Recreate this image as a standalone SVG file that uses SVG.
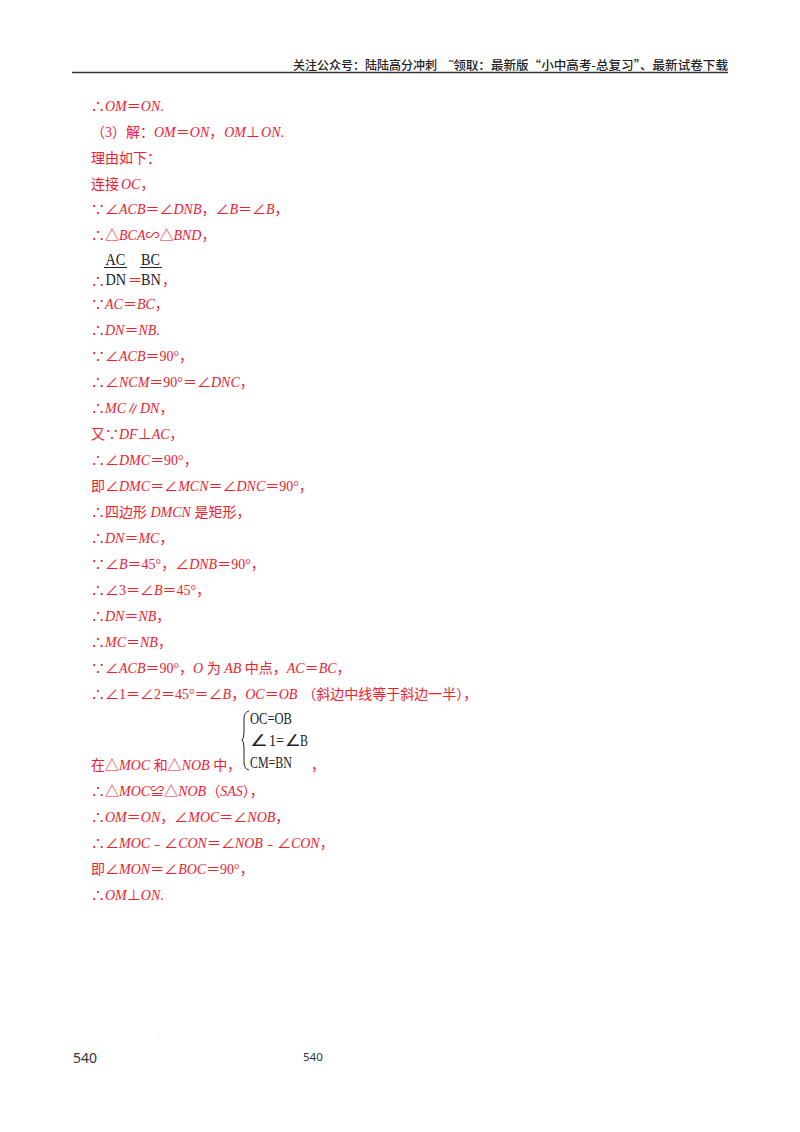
<svg xmlns="http://www.w3.org/2000/svg" width="800" height="1132" viewBox="0 0 800 1132">
<style>
.l{font-family:"Liberation Serif","Noto Sans CJK SC",serif;font-size:14px;fill:#f0202c}
.i{font-style:italic}
.h{font-family:"Noto Sans CJK SC",sans-serif;font-size:12px;fill:#222;font-weight:500}
.m{font-family:"Liberation Serif",serif;font-size:17px;fill:#222}
.a{font-family:"DejaVu Sans",sans-serif;font-size:16px;fill:#222}
.b{font-family:"Noto Sans",sans-serif;fill:#333}
</style>
<rect width="800" height="1132" fill="#fff"/>
<g id="header">
<text class="h" x="293" y="70" textLength="144" lengthAdjust="spacingAndGlyphs">关注公众号：陆陆高分冲刺</text>
<text class="h" x="449" y="70" textLength="279" lengthAdjust="spacingAndGlyphs">˜领取：最新版“小中高考-总复习”、最新试卷下载</text>
<line x1="72" y1="72.5" x2="728" y2="72.5" stroke="#333" stroke-width="1.5"/>
</g>
<g id="body">
<text class="l" x="91" y="110.500">∴<tspan class="i">OM</tspan>＝<tspan class="i">ON</tspan>.</text>
<text class="l" x="91" y="136.500">（3）解：<tspan class="i">OM</tspan>＝<tspan class="i">ON</tspan>，<tspan class="i" dx="1">OM</tspan>⊥<tspan class="i" dx="1">ON</tspan>.</text>
<text class="l" x="91" y="162.500">理由如下：</text>
<text class="l" x="91" y="188.500">连接<tspan class="i" dx="2">OC</tspan>，</text>
<text class="l" x="91" y="214">∵∠<tspan class="i">ACB</tspan>＝∠<tspan class="i">DNB</tspan>，∠<tspan class="i">B</tspan>＝∠<tspan class="i">B</tspan>，</text>
<text class="l" x="91" y="240">∴△<tspan class="i">BCA</tspan>∽△<tspan class="i">BND</tspan>，</text>
<text class="l" x="91" y="286">∴</text>
<text class="m" transform="translate(105.500 265) scale(.84 1)">AC</text>
<line x1="104" y1="267.500" x2="127" y2="267.500" stroke="#222"/>
<text class="m" transform="translate(105.500 285) scale(.84 1)">DN</text>
<text class="l" x="128" y="285">＝</text>
<text class="m" transform="translate(141 265) scale(.84 1)">BC</text>
<line x1="140" y1="267.500" x2="162" y2="267.500" stroke="#222"/>
<text class="m" transform="translate(141 285) scale(.84 1)">BN</text>
<text class="l" x="162" y="285">，</text>
<text class="l" x="91" y="309">∵<tspan class="i">AC</tspan>＝<tspan class="i">BC</tspan>，</text>
<text class="l" x="91" y="335">∴<tspan class="i">DN</tspan>＝<tspan class="i">NB</tspan>.</text>
<text class="l" x="91" y="361">∵∠<tspan class="i">ACB</tspan>＝90°，</text>
<text class="l" x="91" y="387">∴∠<tspan class="i">NCM</tspan>＝90°＝∠<tspan class="i">DNC</tspan>，</text>
<text class="l" x="91" y="413">∴<tspan class="i">MC</tspan>∥<tspan class="i">DN</tspan>，</text>
<text class="l" x="91" y="439">又∵<tspan class="i">DF</tspan>⊥<tspan class="i">AC</tspan>，</text>
<text class="l" x="91" y="465">∴∠<tspan class="i">DMC</tspan>＝90°，</text>
<text class="l" x="91" y="491">即∠<tspan class="i">DMC</tspan>＝∠<tspan class="i">MCN</tspan>＝∠<tspan class="i">DNC</tspan>＝90°，</text>
<text class="l" x="91" y="517">∴四边形 <tspan class="i">DMCN</tspan> 是矩形，</text>
<text class="l" x="91" y="543">∴<tspan class="i">DN</tspan>＝<tspan class="i">MC</tspan>，</text>
<text class="l" x="91" y="569">∵∠<tspan class="i">B</tspan>＝45°，∠<tspan class="i">DNB</tspan>＝90°，</text>
<text class="l" x="91" y="595">∴∠3＝∠<tspan class="i">B</tspan>＝45°，</text>
<text class="l" x="91" y="621">∴<tspan class="i">DN</tspan>＝<tspan class="i">NB</tspan>，</text>
<text class="l" x="91" y="647">∴<tspan class="i">MC</tspan>＝<tspan class="i">NB</tspan>，</text>
<text class="l" x="91" y="673">∵∠<tspan class="i">ACB</tspan>＝90°，<tspan class="i">O</tspan> 为 <tspan class="i">AB</tspan> 中点，<tspan class="i">AC</tspan>＝<tspan class="i">BC</tspan>，</text>
<text class="l" x="91" y="699">∴∠1＝∠2＝45°＝∠<tspan class="i">B</tspan>，<tspan class="i">OC</tspan>＝<tspan class="i">OB</tspan><tspan dx="5">（斜边中线等于斜边一半），</tspan></text>
<path d="M249 711Q244 712 244 719V732Q244 739 242 740Q244 741 244 748V762Q244 769 249 770" fill="none" stroke="#222"/>
<text class="m" x="250" y="724" textLength="42" lengthAdjust="spacingAndGlyphs">OC=OB</text>
<text class="a" transform="translate(250 746) scale(1.25 1)">∠</text>
<text class="m" x="269" y="746" textLength="15" lengthAdjust="spacingAndGlyphs">1=</text>
<text class="a" transform="translate(285 746) scale(1.1 1)">∠</text>
<text class="m" x="300" y="746" textLength="8" lengthAdjust="spacingAndGlyphs">B</text>
<text class="m" x="250" y="768" textLength="42" lengthAdjust="spacingAndGlyphs">CM=BN</text>
<text class="l" x="91" y="770">在△<tspan class="i">MOC</tspan> 和△<tspan class="i">NOB</tspan> 中，</text>
<text class="l" x="311" y="770">，</text>
<text class="l" x="91" y="796">∴△<tspan class="i">MOC</tspan>≌△<tspan class="i">NOB</tspan>（<tspan class="i">SAS</tspan>），</text>
<text class="l" x="91" y="822">∴<tspan class="i">OM</tspan>＝<tspan class="i">ON</tspan>，∠<tspan class="i">MOC</tspan>＝∠<tspan class="i">NOB</tspan>，</text>
<text class="l" x="91" y="848">∴∠<tspan class="i">MOC</tspan>﹣∠<tspan class="i">CON</tspan>＝∠<tspan class="i">NOB</tspan>﹣∠<tspan class="i">CON</tspan>，</text>
<text class="l" x="91" y="874">即∠<tspan class="i">MON</tspan>＝∠<tspan class="i">BOC</tspan>＝90°，</text>
<text class="l" x="91" y="900">∴<tspan class="i">OM</tspan>⊥<tspan class="i">ON</tspan>.</text>
</g>
<g id="footer">
<text class="b" x="73" y="1063" font-size="14">540</text>
<text class="b" x="303" y="1061" font-size="11.5">540</text>
<circle cx="158" cy="1035" r="0.5" fill="#999"/>
</g>
</svg>
